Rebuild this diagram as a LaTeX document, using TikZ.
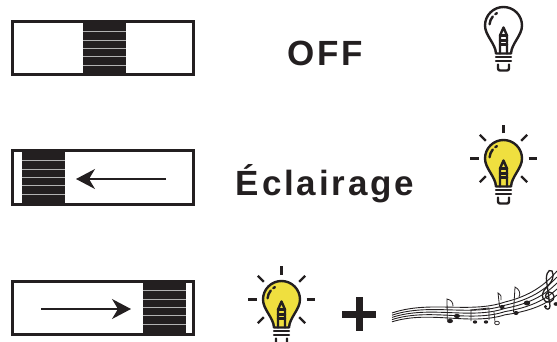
\documentclass[tikz,border=0pt]{standalone}
\usepackage{fontspec}
\setmainfont{Liberation Sans}
\usetikzlibrary{arrows.meta}

\definecolor{ink}{HTML}{231F20}
\definecolor{lamp}{HTML}{EFDF3F}

\tikzset{
  switchbox/.style={draw=ink,line width=3pt,minimum width=181pt,minimum height=53pt,inner sep=0pt},
  gap/.style={draw=black!30,line width=1.2pt},
  slide/.style={draw=ink,line width=1.5pt,-{Stealth[length=19pt,width=20pt,inset=6pt]}},
  bulbline/.style={draw=ink,line width=2.4pt,line cap=round,line join=round},
  modetext/.style={font=\bfseries\fontsize{35}{40}\selectfont\addfontfeatures{LetterSpace=8},text=ink,anchor=base},
  pics/slider/.style={code={
    \fill[ink] (-21.5,-25) rectangle (21.5,25);
    \foreach \k in {1,...,5}
      \draw[gap] (-21.5,-25+\k*50/6) -- (21.5,-25+\k*50/6);
  }},
  pics/bulb/.style={code={
    % glass
    \draw[bulbline,fill=#1] (-7.5,-28) .. controls (-8,-18) and (-18.5,-10) .. (-18.5,0)
      arc[start angle=180,end angle=0,radius=18.5]
      .. controls (18.5,-10) and (8,-18) .. (7.5,-28) -- cycle;
    % shine
    \draw[bulbline] (175:14) arc[start angle=175,end angle=140,radius=14];
    \draw[bulbline] (126:14) arc[start angle=126,end angle=118,radius=14];
    % filament
    \draw[bulbline] (-3.5,-28) -- (-3.5,-10) -- (0,-2) -- (3.5,-10) -- (3.5,-28);
    \draw[bulbline] (-3.5,-10) -- (3.5,-10) (-3.5,-15) -- (3.5,-15) (-3.5,-19) -- (3.5,-19);
    % screw base
    \draw[bulbline] (-7.5,-31.5) -- (7.5,-31.5) (-7.5,-35.5) -- (7.5,-35.5);
    \draw[bulbline,rounded corners=2pt] (-5.5,-39) -- (-5.5,-45) -- (5.5,-45) -- (5.5,-39);
  }},
  pics/bulb/.default=white,
  pics/rays/.style={code={
    \foreach \a in {0,45,90,135,180,225,315}
      \draw[bulbline,line cap=butt] (\a:25) -- (\a:33.5);
  }},
}

\begin{document}
\begin{tikzpicture}[x=1pt,y=-1pt]
  \useasboundingbox (0,0) rectangle (557,342);

  % switches
  \node[switchbox] (swOff)   at (103,48.5)  {};
  \node[switchbox] (swLight) at (103,177.5) {};
  \node[switchbox] (swSound) at (103,307.5) {};
  \pic at (104.5,48.5)  {slider};
  \pic at (43,177.5)    {slider};
  \pic at (164,307.5)   {slider};

  \coordinate (lightFrom) at (166,179);
  \coordinate (lightTo)   at (76,179);
  \coordinate (soundFrom) at (41,309);
  \coordinate (soundTo)   at (131,309);
  \draw[slide] (lightFrom) -- (lightTo);
  \draw[slide] (soundFrom) -- (soundTo);

  % modes
  \node[modetext] (off)   at (325,66)  {OFF};
  \node[modetext] (light) at (325,195) {Éclairage};

  % lamps
  \pic[yscale=-1] (lampOff) at (503.5,25.5) {bulb};
  \pic[yscale=-1] (lampOn) at (503.5,158.5) {bulb=lamp};
  \pic[yscale=-1] at (503.5,158.5) {rays};
  \pic[yscale=-1] (lampMix) at (281.5,299.5) {bulb=lamp};
  \pic[yscale=-1] at (281.5,299.5) {rays};

  % plus
  \draw[ink,line width=7pt] (342,314) -- (376,314) (359,297) -- (359,331);

  % staff
  \foreach \k in {0,...,4}
    \draw[ink,line width=0.9pt] (392,313+\k*2.2) .. controls (430,300+\k*2.5) and (470,314+\k*3) .. (505,302+\k*3.2)
      .. controls (530,296+\k*3.8) and (545,285+\k*5) .. (557,271+\k*6);

  % notes
  \fill[ink] (450,321) ellipse (3 and 2.2);
  \fill[ink] (457,316) ellipse (3 and 2.2);
  \draw[ink,line width=0.8pt] (447.3,320) -- (447,299) .. controls (451,300) and (453,302) .. (453,306);
  \draw[ink,line width=0.8pt] (471,321) -- (471,310) -- (489,308) -- (489,320);
  \fill[ink] (475,322) ellipse (2.2 and 1.7);
  \fill[ink] (486,322) ellipse (2.2 and 1.7);
  \draw[ink,line width=0.7pt] (497,323) ellipse (2.4 and 1.8);
  \draw[ink,line width=0.7pt] (495,322) -- (494,312);
  \fill[ink] (502,307) ellipse (2.6 and 2);
  \draw[ink,line width=0.8pt] (499.5,306) -- (498,293) .. controls (501,295) and (502,297) .. (501,300);
  \fill[ink] (516,313) ellipse (2.6 and 2);
  \draw[ink,line width=0.8pt] (513.5,312) -- (515,287) .. controls (519,289) and (521,293) .. (519,297);
  \fill[ink] (527,303) ellipse (3.2 and 2.5);
  \fill[ink] (556,304) ellipse (2.4 and 1.9);

  % treble clef
  \draw[ink,line width=1.3pt,line cap=round] (549,299) .. controls (545,299) and (544,293) .. (549,292)
    .. controls (555,292) and (556,300) .. (550,302)
    .. controls (542,303) and (540,294) .. (546,288)
    .. controls (552,282) and (555,276) .. (552,271)
    .. controls (548,268) and (545,276) .. (547,284)
    -- (550,306) .. controls (550,310) and (546,310) .. (545,307);
  \fill[ink] (545.5,306.5) circle (1.6);
\end{tikzpicture}
\end{document}
